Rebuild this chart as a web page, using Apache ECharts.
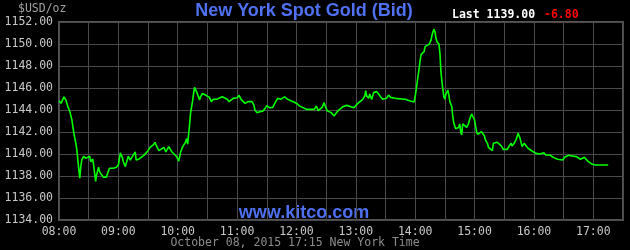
<!DOCTYPE html>
<html>
<head>
<meta charset="utf-8">
<script src="https://cdn.jsdelivr.net/npm/echarts@6/dist/echarts.min.js"></script>
<style>
html,body{margin:0;padding:0;background:#000;}
#chart{width:630px;height:250px;}
</style>
</head>
<body>
<div id="chart"></div>
<script>
// minutes after 08:00 (New York time)
var minutes = [
  0,2,5,7,9,11,13,15,17,18,
  19,20,21,22,23,25,27,29,31,32,
  34,35,37,38,40,41,43,45,48,49,
  51,53,55,58,60,62,64,65,67,69,
  70,72,75,77,78,81,83,86,88,90,
  92,95,97,99,101,103,106,108,111,114,
  119,121,123,125,128,129,130,132,133,135,
  136,137,138,139,141,142,143,145,146,148,
  150,152,154,156,158,160,162,165,167,170,
  172,174,176,178,180,182,184,186,188,191,
  193,195,197,198,200,202,203,206,208,210,
  211,213,216,218,219,221,224,226,228,229,
  231,233,235,238,240,241,243,246,248,250,
  252,254,256,258,260,261,262,264,266,268,
  269,271,273,275,277,278,280,282,284,287,
  289,291,293,295,298,300,302,304,307,309,
  310,311,313,314,316,318,320,321,323,325,
  327,329,331,333,335,337,340,343,347,350,
  352,355,357,359,360,361,362,363,364,365,
  366,367,369,370,372,374,375,376,377,378,
  379,380,381,382,384,385,386,387,388,389,
  390,391,393,394,395,397,398,399,401,402,
  404,405,406,407,408,410,412,414,415,417,
  418,420,421,422,423,425,427,429,430,431,
  433,434,436,438,439,441,443,445,447,449,
  451,453,455,457,458,460,462,463,464,466,
  467,468,470,472,474,476,478,480,482,484,
  486,488,490,492,494,496,498,500,501,504,
  506,509,511,513,515,517,519,521,523,525,
  527,529,531,533,535,537,539,542,555
];
// bid price, USD/oz
var bidPrices = [
  1144.85,1144.6,1145.2,1144.9,1144.3,1143.85,1143.1,1141.9,1140.97,1140.4,
  1140.25,1138.6,1137.8,1138.85,1139.45,1139.8,1139.6,1139.45,1139.8,1139.3,
  1139.55,1139.0,1137.5,1138.1,1138.8,1138.4,1138.1,1137.9,1137.9,1138.2,
  1138.7,1138.6,1138.7,1138.8,1139.0,1140.1,1139.7,1139.3,1138.85,1139.0,
  1139.8,1139.45,1139.9,1140.2,1139.45,1139.55,1139.7,1139.9,1140.1,1140.3,
  1140.6,1140.8,1141.05,1140.65,1140.3,1140.45,1140.6,1140.2,1140.67,1140.2,
  1139.75,1139.36,1140.2,1140.67,1141.1,1141.4,1140.9,1142.7,1143.75,1144.8,
  1145.5,1146.06,1145.88,1145.67,1145.2,1144.9,1145.2,1145.5,1145.67,1145.36,
  1145.27,1145.15,1144.76,1144.97,1145.06,1145.0,1145.12,1145.2,1145.15,1144.97,
  1144.76,1144.7,1145.06,1144.9,1145.12,1145.33,1144.97,1144.85,1144.6,1144.76,
  1144.9,1144.76,1144.45,1144.0,1143.76,1143.94,1143.85,1143.9,1144.1,1144.4,
  1144.54,1144.2,1144.24,1144.06,1144.76,1145.06,1144.97,1145.15,1145.2,1145.36,
  1144.97,1144.9,1144.82,1144.7,1144.85,1144.55,1144.36,1144.24,1144.06,1144.06,
  1144.0,1144.06,1143.9,1144.06,1144.36,1144.15,1143.94,1144.0,1144.24,1144.67,
  1144.36,1143.94,1143.85,1143.76,1143.64,1143.45,1143.7,1143.94,1144.09,1144.3,
  1144.24,1144.42,1144.45,1144.3,1144.2,1144.36,1144.6,1144.76,1144.97,1145.27,
  1145.76,1145.27,1145.06,1145.45,1144.95,1145.58,1145.4,1145.67,1145.45,1145.2,
  1144.97,1145.06,1145.06,1145.36,1145.15,1145.12,1145.06,1145.03,1145.0,1144.97,
  1144.9,1144.82,1144.76,1144.73,1144.9,1145.82,1146.48,1147.18,1147.79,1148.55,
  1149.06,1149.15,1149.3,1149.76,1149.85,1149.97,1150.06,1150.36,1150.82,1151.12,
  1151.33,1151.1,1150.52,1150.21,1150.0,1149.15,1147.48,1146.58,1145.82,1145.2,
  1144.97,1145.45,1145.82,1145.36,1144.76,1144.3,1143.39,1142.79,1142.3,1142.2,
  1142.42,1142.73,1142.03,1141.73,1142.73,1142.64,1142.42,1142.79,1143.15,1143.64,
  1143.55,1143.09,1142.55,1142.03,1141.79,1141.94,1142.03,1141.94,1141.64,1141.27,
  1140.97,1140.61,1140.58,1140.3,1140.97,1140.91,1141.06,1140.97,1140.73,1140.42,
  1140.3,1140.42,1140.73,1140.97,1140.73,1140.97,1141.33,1141.58,1141.88,1141.42,
  1141.03,1140.67,1140.97,1141.03,1140.52,1140.36,1140.27,1140.12,1140.06,1140.21,
  1140.0,1140.0,1140.12,1139.91,1139.85,1139.91,1139.78,1139.67,1139.76,1139.52,
  1139.52,1139.45,1139.7,1139.76,1139.88,1139.88,1139.82,1139.91,1139.76,1139.82,
  1139.52,1139.61,1139.7,1139.52,1139.3,1139.15,1139.06,1139.0,1139.0
];
var hourLabels = ['08:00','09:00','10:00','11:00','12:00','13:00','14:00','15:00','16:00','17:00'];
var yMin = 1134, yMax = 1152, yStep = 2;
var titleText = 'New York Spot Gold (Bid)';
var lastText = 'Last 1139.00';
var changeText = '-6.80';
var unitText = '$USD/oz';
var siteText = 'www.kitco.com';
var dateText = 'October 08, 2015 17:15 New York Time';

var seriesData = minutes.map(function (m, i) { return [m, bidPrices[i]]; });
var mono = '"DejaVu Sans Mono", "Liberation Mono", monospace';

var chart = echarts.init(document.getElementById('chart'), null, {renderer: 'canvas'});
chart.setOption({
  backgroundColor: '#000000',
  animation: false,
  grid: {
    left: 59, right: 7, top: 22, bottom: 30,
    show: true, borderColor: '#555555', borderWidth: 2, backgroundColor: 'transparent'
  },
  xAxis: {
    type: 'value', min: 0, max: 570, interval: 30,
    axisLine: {show: false}, axisTick: {show: false},
    splitLine: {show: true, lineStyle: {color: '#4a4a4a', width: 1}},
    axisLabel: {
      color: '#c8c8c8', fontFamily: mono, fontSize: 11.5, margin: 6,
      showMinLabel: true, showMaxLabel: true,
      formatter: function (v) { return v % 60 === 0 ? (hourLabels[v / 60] || '') : ''; }
    }
  },
  yAxis: {
    type: 'value', min: yMin, max: yMax, interval: yStep,
    axisLine: {show: false}, axisTick: {show: false},
    splitLine: {show: true, lineStyle: {color: '#4a4a4a', width: 1}},
    axisLabel: {
      color: '#c8c8c8', fontFamily: mono, fontSize: 11.5, margin: 6,
      formatter: function (v) { return v.toFixed(2); }
    }
  },
  graphic: [
    {type: 'text', x: 304, y: 11, style: {text: titleText, fill: '#4f70f0', font: 'bold 18px "Liberation Sans", Arial, sans-serif', textAlign: 'center', textVerticalAlign: 'middle'}},
    {type: 'text', x: 452, y: 15, style: {text: lastText, fill: '#ffffff', font: 'bold 11.5px ' + mono, textAlign: 'left', textVerticalAlign: 'middle'}},
    {type: 'text', x: 544, y: 15, style: {text: changeText, fill: '#ff0000', font: 'bold 11.5px ' + mono, textAlign: 'left', textVerticalAlign: 'middle'}},
    {type: 'text', x: 18, y: 9, style: {text: unitText, fill: '#a0a0a0', font: '11.5px ' + mono, textAlign: 'left', textVerticalAlign: 'middle'}},
    {type: 'text', x: 304, y: 213, style: {text: siteText, fill: '#4f70f0', font: 'bold 18px "Liberation Sans", Arial, sans-serif', textAlign: 'center', textVerticalAlign: 'middle'}},
    {type: 'text', x: 295, y: 243, style: {text: dateText, fill: '#8c8c8c', font: '11.5px ' + mono, textAlign: 'center', textVerticalAlign: 'middle'}}
  ],
  series: [{
    type: 'line',
    data: seriesData,
    showSymbol: false,
    lineStyle: {color: '#00ff00', width: 1.6},
    z: 5
  }]
});
</script>
</body>
</html>
